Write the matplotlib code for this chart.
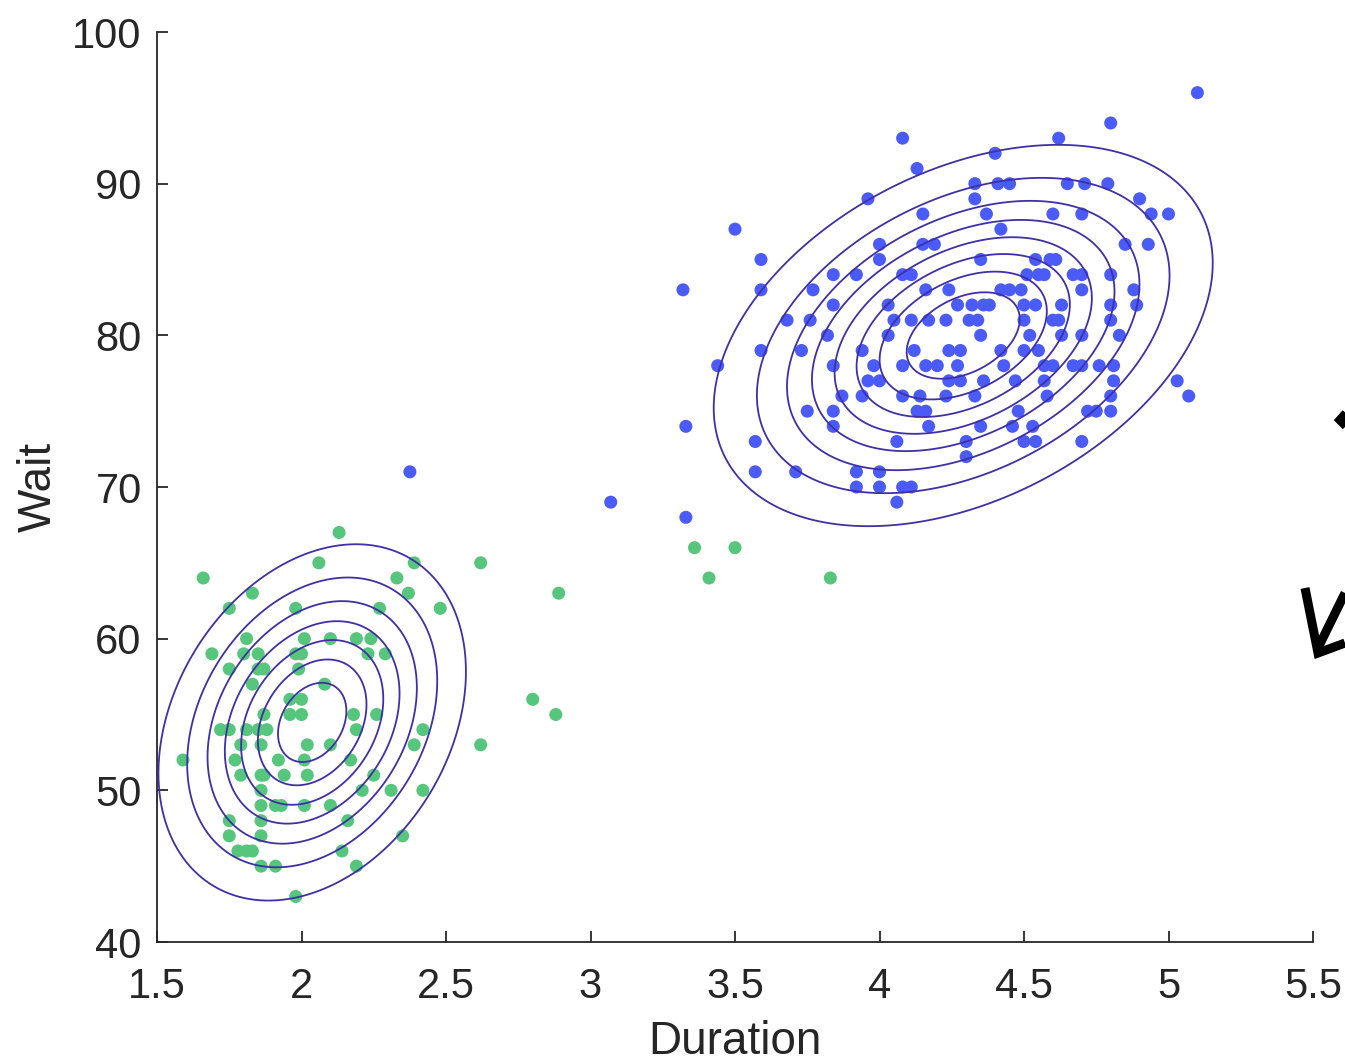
import numpy as np
import matplotlib
matplotlib.use("Agg")
import matplotlib.pyplot as plt
from matplotlib.lines import Line2D

plt.rcParams['font.family'] = ['Liberation Sans', 'DejaVu Sans']

# ---- data: green cluster (duration, wait) ----
green_duration = [2.13,
                  2.06, 2.39, 2.62,
                  1.66, 2.33,
                  1.83, 2.37, 2.89,
                  1.75, 1.98, 2.27, 2.48,
                  1.81, 2.01, 2.10, 2.19, 2.24,
                  1.69, 1.80, 1.85, 1.98, 2.00, 2.23, 2.29,
                  1.75, 1.85, 1.87, 1.99,
                  1.83, 2.08,
                  1.96, 2.00, 2.80,
                  1.87, 1.96, 2.00, 2.18, 2.26, 2.88,
                  1.72, 1.75, 1.81, 1.85, 1.88, 2.19, 2.42,
                  1.79, 1.86, 2.02, 2.10, 2.39, 2.62,
                  1.59, 1.77, 1.92, 2.01, 2.17,
                  1.79, 1.86, 1.87, 1.94, 2.02, 2.25,
                  1.86, 2.21, 2.31, 2.42,
                  1.86, 1.91, 1.93, 2.01, 2.10,
                  1.75, 1.86, 2.16,
                  1.75, 1.86, 2.35,
                  1.78, 1.81, 1.83, 2.14,
                  1.86, 1.91, 2.19,
                  1.98,
                  3.36, 3.50,
                  3.41, 3.83]
green_wait = [67,
              65, 65, 65,
              64, 64,
              63, 63, 63,
              62, 62, 62, 62,
              60, 60, 60, 60, 60,
              59, 59, 59, 59, 59, 59, 59,
              58, 58, 58, 58,
              57, 57,
              56, 56, 56,
              55, 55, 55, 55, 55, 55,
              54, 54, 54, 54, 54, 54, 54,
              53, 53, 53, 53, 53, 53,
              52, 52, 52, 52, 52,
              51, 51, 51, 51, 51, 51,
              50, 50, 50, 50,
              49, 49, 49, 49, 49,
              48, 48, 48,
              47, 47, 47,
              46, 46, 46, 46,
              45, 45, 45,
              43,
              66, 66,
              64, 64]

# ---- data: blue cluster, grouped by wait ----
blue_groups = {
    96: [5.10],
    94: [4.80],
    93: [4.08, 4.62],
    92: [4.40],
    91: [4.13],
    90: [4.33, 4.41, 4.45, 4.65, 4.71, 4.79],
    89: [3.96, 4.33, 4.90],
    88: [4.15, 4.37, 4.60, 4.70, 4.94, 5.00],
    87: [3.50, 4.42],
    86: [4.00, 4.15, 4.19, 4.85, 4.93],
    85: [3.59, 4.00, 4.35, 4.54, 4.59, 4.61],
    84: [3.84, 3.92, 4.08, 4.11, 4.51, 4.55, 4.57, 4.67, 4.70, 4.80],
    83: [3.32, 3.59, 3.77, 4.16, 4.24, 4.42, 4.45, 4.49, 4.70, 4.88],
    82: [3.84, 4.03, 4.27, 4.32, 4.36, 4.38, 4.50, 4.54, 4.63, 4.80, 4.89],
    81: [3.68, 3.76, 4.05, 4.11, 4.17, 4.23, 4.31, 4.34, 4.50, 4.60, 4.62, 4.80],
    80: [3.82, 4.03, 4.35, 4.52, 4.63, 4.70, 4.83],
    79: [3.59, 3.73, 3.94, 4.12, 4.24, 4.28, 4.42, 4.50, 4.55],
    78: [3.44, 3.84, 3.98, 4.08, 4.16, 4.20, 4.27, 4.43, 4.57, 4.60, 4.67, 4.70, 4.76, 4.81],
    77: [3.96, 4.00, 4.24, 4.28, 4.36, 4.47, 4.57, 4.81, 5.03],
    76: [3.87, 3.94, 4.08, 4.14, 4.23, 4.33, 4.58, 4.80, 5.07],
    75: [3.75, 3.84, 4.13, 4.16, 4.48, 4.72, 4.75, 4.80],
    74: [3.33, 3.84, 4.17, 4.35, 4.46, 4.53],
    73: [3.57, 4.06, 4.30, 4.50, 4.54, 4.70],
    72: [4.30],
    71: [2.375, 3.57, 3.71, 3.92, 4.00],
    70: [3.92, 4.00, 4.08, 4.11],
    69: [3.07, 4.06],
    68: [3.33],
}
blue_duration = [d for w, ds in blue_groups.items() for d in ds]
blue_wait = [w for w, ds in blue_groups.items() for d in ds]

# ---- Gaussian mixture parameters ----
gm_means = [[2.0370, 54.4791], [4.2897, 79.9878]]
gm_covs = [[[0.0691, 0.4352], [0.4352, 33.6973]],
           [[0.1700, 0.9406], [0.9406, 36.0462]]]
gm_weights = [0.3559, 0.6441]
contour_levels = [0.005, 0.010, 0.015, 0.020, 0.025, 0.030, 0.035, 0.040]

x_ticks = [1.5, 2, 2.5, 3, 3.5, 4, 4.5, 5, 5.5]
x_ticklabels = ['1.5', '2', '2.5', '3', '3.5', '4', '4.5', '5', '5.5']
y_ticks = [40, 50, 60, 70, 80, 90, 100]

W, H = 1345, 1062
fig = plt.figure(figsize=(W / 100, H / 100), dpi=100)
ax = fig.add_axes([157 / W, 1 - 942 / H, (1313 - 157) / W, (942 - 32) / H])

ax.scatter(green_duration, green_wait, s=88, color='#56C67C', edgecolors='none', zorder=2)
ax.scatter(blue_duration, blue_wait, s=88, color='#4A5BF7', edgecolors='none', zorder=2)

gx = np.linspace(1.5, 5.5, 600)
gy = np.linspace(40, 100, 600)
X, Y = np.meshgrid(gx, gy)
Z = np.zeros_like(X)
for m, c, w in zip(gm_means, gm_covs, gm_weights):
    c = np.array(c)
    inv = np.linalg.inv(c)
    det = np.linalg.det(c)
    dx = X - m[0]
    dy = Y - m[1]
    q = inv[0, 0] * dx * dx + 2 * inv[0, 1] * dx * dy + inv[1, 1] * dy * dy
    Z += w * np.exp(-0.5 * q) / (2 * np.pi * np.sqrt(det))
ax.contour(X, Y, Z, levels=contour_levels, colors='#3F2FA8', linewidths=1.3, zorder=3)

ax.set_xlim(1.5, 5.5)
ax.set_ylim(40, 100)
ax.set_xticks(x_ticks)
ax.set_xticklabels(x_ticklabels)
ax.set_yticks(y_ticks)

for s in ['top', 'right']:
    ax.spines[s].set_visible(False)
for s in ['left', 'bottom']:
    ax.spines[s].set_color('#262626')
    ax.spines[s].set_linewidth(1.3)
ax.tick_params(direction='in', length=8, width=1.3, color='#262626',
               labelcolor='#262626', labelsize=30)
ax.tick_params(axis='y', pad=11)
ax.tick_params(axis='x', pad=18)
ax.set_xlabel('Duration', fontsize=33, color='#262626', labelpad=9)
ax.set_ylabel('Wait', fontsize=33, color='#262626', labelpad=8)

# partial arrow glyphs at right edge
def px(xp, yp):
    return xp / W, 1 - yp / H
arrow_paths = [
    [(1345, 593), (1317, 650)],
    [(1305, 588), (1318, 653), (1345, 643)],
    [(1348, 411), (1340, 420), (1348, 428)],
]
for path in arrow_paths:
    xs = [px(a, b)[0] for a, b in path]
    ys = [px(a, b)[1] for a, b in path]
    fig.add_artist(Line2D(xs, ys, transform=fig.transFigure, color='black',
                          linewidth=6.5, solid_capstyle='butt', solid_joinstyle='miter'))

fig.savefig('out.png', dpi=100)
